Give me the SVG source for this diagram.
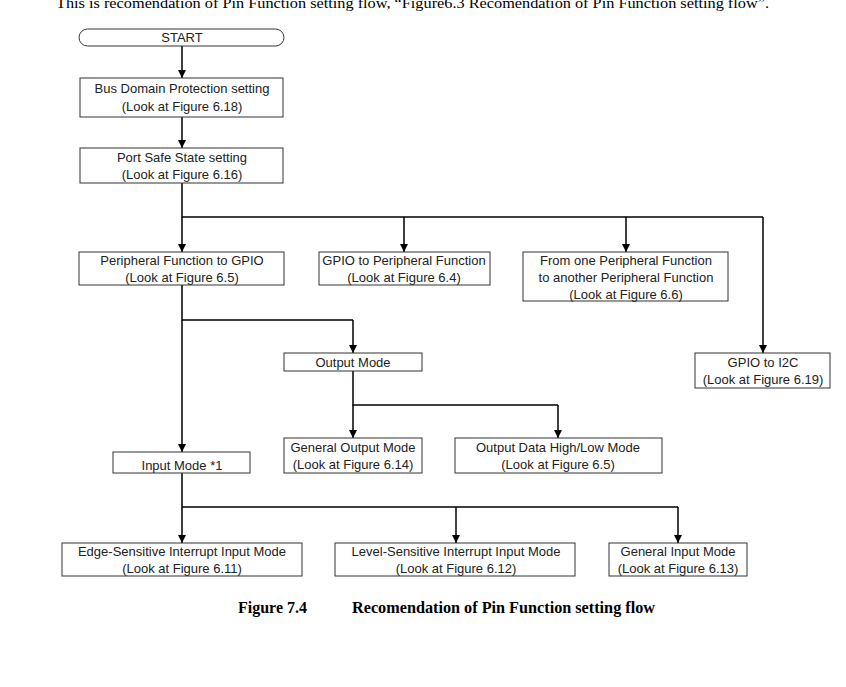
<svg xmlns="http://www.w3.org/2000/svg" width="846" height="687" viewBox="0 0 846 687">
  <defs>
    <marker id="arrow" viewBox="0 0 10 10" refX="10" refY="5" markerWidth="8" markerHeight="8" markerUnits="userSpaceOnUse" orient="auto">
      <path d="M0,0 L10,5 L0,10 Z" fill="#000"/>
    </marker>
  </defs>
  <style>
    .box { fill: #fff; stroke: #333; stroke-width: 1; }
    .lbl { font-family: "Liberation Sans", Arial, sans-serif; font-size: 13px; fill: #222; text-anchor: middle; }
    .wire { fill: none; stroke: #000; stroke-width: 1.5; }
    .arr { fill: none; stroke: #000; stroke-width: 1.5; marker-end: url(#arrow); }
    .doc { font-family: "Liberation Serif", "Times New Roman", serif; fill: #000; }
  </style>
  <rect width="846" height="687" fill="#fff"/>

  <!-- intro sentence at the page top -->
  <text class="doc" x="56" y="8" font-size="15" textLength="713" lengthAdjust="spacingAndGlyphs">This is recomendation of Pin Function setting flow, “Figure6.3 Recomendation of Pin Function setting flow”.</text>

  <!-- connectors -->
  <g id="connectors">
    <line class="arr" x1="182" y1="46" x2="182" y2="78"/>
    <line class="arr" x1="182" y1="117" x2="182" y2="148"/>
    <polyline class="wire" points="182,183 182,217 763,217"/>
    <line class="arr" x1="182" y1="217" x2="182" y2="252"/>
    <line class="arr" x1="404" y1="217" x2="404" y2="252"/>
    <line class="arr" x1="626" y1="217" x2="626" y2="252"/>
    <line class="arr" x1="763" y1="217" x2="763" y2="353"/>
    <polyline class="wire" points="182,285 182,320 353,320"/>
    <line class="arr" x1="353" y1="320" x2="353" y2="353"/>
    <line class="arr" x1="182" y1="320" x2="182" y2="452"/>
    <polyline class="wire" points="353,371 353,405 558,405"/>
    <line class="arr" x1="353" y1="405" x2="353" y2="438"/>
    <line class="arr" x1="558" y1="405" x2="558" y2="438"/>
    <polyline class="wire" points="182,473 182,507 678,507"/>
    <line class="arr" x1="182" y1="507" x2="182" y2="543"/>
    <line class="arr" x1="456" y1="507" x2="456" y2="543"/>
    <line class="arr" x1="678" y1="507" x2="678" y2="543"/>
  </g>

  <g id="start">
    <rect class="box" x="79" y="29" width="205" height="17" rx="8.5" ry="8.5"/>
    <text class="lbl" x="182" y="42">START</text>
  </g>

  <g id="bus-domain">
    <rect class="box" x="80" y="78" width="203" height="39"/>
    <text class="lbl" x="182" y="93">Bus Domain Protection setting</text>
    <text class="lbl" x="182" y="111">(Look at Figure 6.18)</text>
  </g>

  <g id="port-safe">
    <rect class="box" x="80" y="148" width="203" height="35"/>
    <text class="lbl" x="182" y="162">Port Safe State setting</text>
    <text class="lbl" x="182" y="179">(Look at Figure 6.16)</text>
  </g>

  <g id="periph-to-gpio">
    <rect class="box" x="79" y="252" width="205" height="33"/>
    <text class="lbl" x="182" y="265">Peripheral Function to GPIO</text>
    <text class="lbl" x="182" y="282">(Look at Figure 6.5)</text>
  </g>

  <g id="gpio-to-periph">
    <rect class="box" x="319" y="252" width="171" height="33"/>
    <text class="lbl" x="404" y="265">GPIO to Peripheral Function</text>
    <text class="lbl" x="404" y="282">(Look at Figure 6.4)</text>
  </g>

  <g id="periph-to-periph">
    <rect class="box" x="523" y="252" width="205" height="49"/>
    <text class="lbl" x="626" y="265">From one Peripheral Function</text>
    <text class="lbl" x="626" y="282">to another Peripheral Function</text>
    <text class="lbl" x="626" y="299">(Look at Figure 6.6)</text>
  </g>

  <g id="gpio-to-i2c">
    <rect class="box" x="695" y="353" width="135" height="35"/>
    <text class="lbl" x="763" y="367">GPIO to I2C</text>
    <text class="lbl" x="763" y="384">(Look at Figure 6.19)</text>
  </g>

  <g id="output-mode">
    <rect class="box" x="284" y="353" width="138" height="18"/>
    <text class="lbl" x="353" y="367">Output Mode</text>
  </g>

  <g id="general-output">
    <rect class="box" x="284" y="438" width="138" height="35"/>
    <text class="lbl" x="353" y="452">General Output Mode</text>
    <text class="lbl" x="353" y="469">(Look at Figure 6.14)</text>
  </g>

  <g id="output-high-low">
    <rect class="box" x="455" y="438" width="207" height="35"/>
    <text class="lbl" x="558" y="452">Output Data High/Low Mode</text>
    <text class="lbl" x="558" y="469">(Look at Figure 6.5)</text>
  </g>

  <g id="input-mode">
    <rect class="box" x="113" y="452" width="137" height="21"/>
    <text class="lbl" x="182" y="470">Input Mode *1</text>
  </g>

  <g id="edge-input">
    <rect class="box" x="62" y="543" width="240" height="33"/>
    <text class="lbl" x="182" y="556">Edge-Sensitive Interrupt Input Mode</text>
    <text class="lbl" x="182" y="573">(Look at Figure 6.11)</text>
  </g>

  <g id="level-input">
    <rect class="box" x="335" y="543" width="240" height="33"/>
    <text class="lbl" x="456" y="556">Level-Sensitive Interrupt Input Mode</text>
    <text class="lbl" x="456" y="573">(Look at Figure 6.12)</text>
  </g>

  <g id="general-input">
    <rect class="box" x="609" y="543" width="138" height="33"/>
    <text class="lbl" x="678" y="556">General Input Mode</text>
    <text class="lbl" x="678" y="573">(Look at Figure 6.13)</text>
  </g>

  <!-- figure caption -->
  <text class="doc" x="238" y="613" font-size="16" font-weight="bold">Figure 7.4</text>
  <text class="doc" x="352" y="613" font-size="16" font-weight="bold" textLength="303" lengthAdjust="spacingAndGlyphs">Recomendation of Pin Function setting flow</text>
</svg>
